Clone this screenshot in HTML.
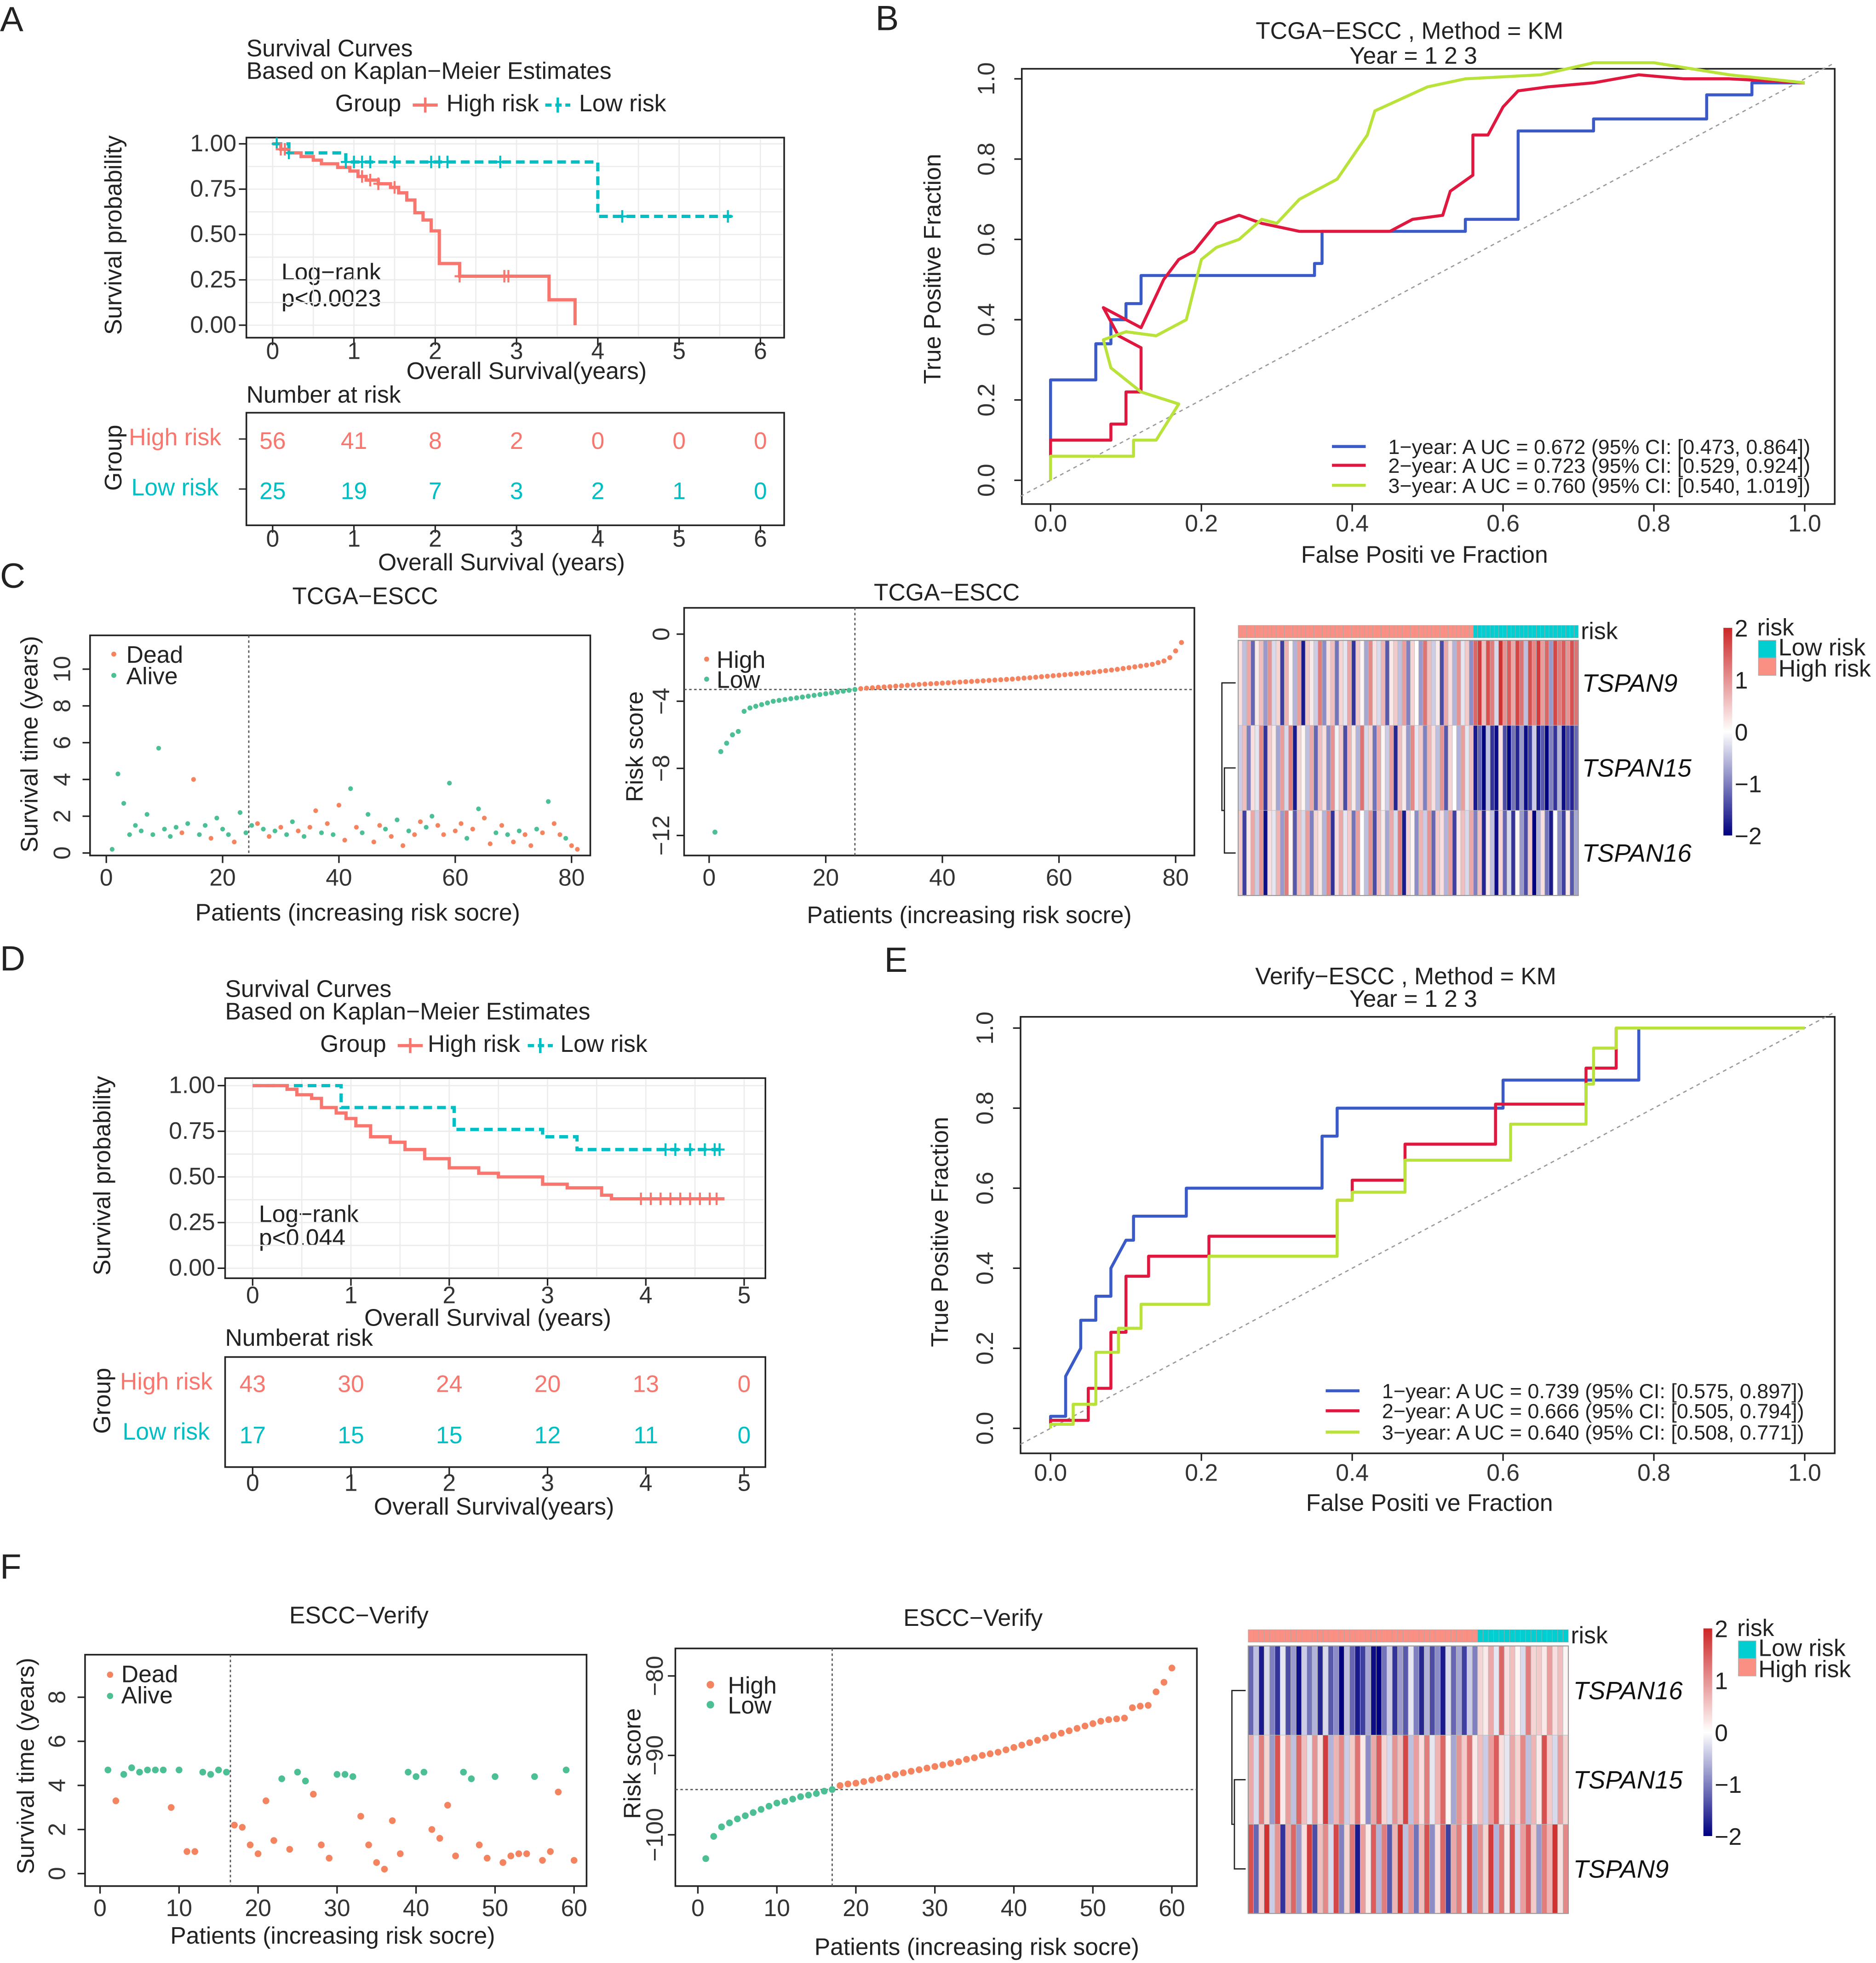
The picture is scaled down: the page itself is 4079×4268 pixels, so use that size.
<!DOCTYPE html>
<html><head><meta charset="utf-8"><style>
html,body{margin:0;padding:0;background:#fff;}
svg{display:block;font-family:"Liberation Sans",Arial,sans-serif;}
</style></head><body>
<svg id="fig" xmlns="http://www.w3.org/2000/svg" width="4079" height="4268" viewBox="0 0 1500 1569.5">
<rect x="0" y="0" width="1500" height="1570" fill="#fff"/>
<g font-size="19" fill="#222">
<text x="0" y="25" font-size="28">A</text>
<text x="700" y="24" font-size="28">B</text>
<text x="0" y="470" font-size="28">C</text>
<text x="0" y="776" font-size="28">D</text>
<text x="707" y="777" font-size="28">E</text>
<text x="0" y="1262" font-size="28">F</text>

<text x="197" y="45">Survival Curves</text>
<text x="197" y="63">Based on Kaplan−Meier Estimates</text>
<text x="268" y="89">Group</text>
<line x1="330" y1="84" x2="350" y2="84" stroke="#F8766D" stroke-width="2.5"/>
<line x1="340" y1="78" x2="340" y2="90" stroke="#F8766D" stroke-width="2"/>
<text x="357" y="89">High risk</text>
<line x1="436" y1="84" x2="456" y2="84" stroke="#00BFC4" stroke-width="2.5" stroke-dasharray="5,3"/>
<line x1="446" y1="78" x2="446" y2="90" stroke="#00BFC4" stroke-width="2"/>
<text x="463" y="89">Low risk</text>
<text transform="rotate(-90 97 188)" x="97" y="188" text-anchor="middle">Survival probability</text>
<text x="421" y="303" text-anchor="middle">Overall Survival(years)</text>
<text x="225" y="224">Log−rank</text>
<text x="225" y="245">p&lt;0.0023</text>
<text x="197" y="322">Number at risk</text>
<text x="103" y="356" fill="#F8766D">High  risk</text>
<text x="105" y="396" fill="#00BFC4">Low  risk</text>
<text transform="rotate(-90 97 366)" x="97" y="366" text-anchor="middle">Group</text>
<text x="401" y="456" text-anchor="middle">Overall  Survival  (years)</text>

<text x="1127" y="31" text-anchor="middle">TCGA−ESCC , Method = KM</text>
<text x="1130" y="51" text-anchor="middle">Year = 1 2 3</text>
<text transform="rotate(-90 752 215)" x="752" y="215" text-anchor="middle">True Positive Fraction</text>
<text x="1139" y="450" text-anchor="middle">False Positi ve Fraction</text>

<text x="292" y="483" text-anchor="middle">TCGA−ESCC</text>
<text x="757" y="480" text-anchor="middle">TCGA−ESCC</text>
<text transform="rotate(-90 30 595)" x="30" y="595" text-anchor="middle">Survival time (years)</text>
<text x="286" y="736" text-anchor="middle">Patients (increasing risk socre)</text>
<circle cx="91" cy="523" r="2" fill="#F4845F"/>
<text x="101" y="530">Dead</text>
<circle cx="91" cy="540" r="2" fill="#4DBF94"/>
<text x="101" y="547">Alive</text>
<text transform="rotate(-90 514 597)" x="514" y="597" text-anchor="middle">Risk score</text>
<text x="775" y="738" text-anchor="middle">Patients (increasing risk socre)</text>
<circle cx="565" cy="527" r="2" fill="#F4845F"/>
<text x="573" y="534">High</text>
<circle cx="565" cy="543" r="2" fill="#4DBF94"/>
<text x="573" y="550">Low</text>

<text x="180" y="797">Survival Curves</text>
<text x="180" y="815">Based on Kaplan−Meier Estimates</text>
<text x="256" y="841">Group</text>
<line x1="318" y1="836" x2="338" y2="836" stroke="#F8766D" stroke-width="2.5"/>
<line x1="328" y1="830" x2="328" y2="842" stroke="#F8766D" stroke-width="2"/>
<text x="342" y="841">High risk</text>
<line x1="422" y1="836" x2="442" y2="836" stroke="#00BFC4" stroke-width="2.5" stroke-dasharray="5,3"/>
<line x1="432" y1="830" x2="432" y2="842" stroke="#00BFC4" stroke-width="2"/>
<text x="448" y="841">Low risk</text>
<text transform="rotate(-90 88 940)" x="88" y="940" text-anchor="middle">Survival probability</text>
<text x="390" y="1060" text-anchor="middle">Overall Survival (years)</text>
<text x="207" y="977">Log−rank</text>
<text x="207" y="996">p&lt;0.044</text>
<text x="180" y="1076">Numberat risk</text>
<text x="96" y="1111" fill="#F8766D">High risk</text>
<text x="98" y="1151" fill="#00BFC4">Low risk</text>
<text transform="rotate(-90 88 1120)" x="88" y="1120" text-anchor="middle">Group</text>
<text x="395" y="1211" text-anchor="middle">Overall Survival(years)</text>

<text x="1124" y="787" text-anchor="middle">Verify−ESCC , Method = KM</text>
<text x="1130" y="805" text-anchor="middle">Year = 1 2 3</text>
<text transform="rotate(-90 758 985)" x="758" y="985" text-anchor="middle">True Positive Fraction</text>
<text x="1143" y="1208" text-anchor="middle">False Positi ve Fraction</text>

<text x="287" y="1298" text-anchor="middle">ESCC−Verify</text>
<text x="778" y="1300" text-anchor="middle">ESCC−Verify</text>
<text transform="rotate(-90 27 1412)" x="27" y="1412" text-anchor="middle">Survival time (years)</text>
<text x="266" y="1554" text-anchor="middle">Patients (increasing risk socre)</text>
<circle cx="88" cy="1339" r="2.5" fill="#F4845F"/>
<text x="97" y="1345">Dead</text>
<circle cx="88" cy="1356" r="2.5" fill="#4DBF94"/>
<text x="97" y="1362">Alive</text>
<text transform="rotate(-90 512 1410)" x="512" y="1410" text-anchor="middle">Risk score</text>
<text x="781" y="1563" text-anchor="middle">Patients (increasing risk socre)</text>
<circle cx="568" cy="1347" r="3" fill="#F4845F"/>
<text x="582" y="1354">High</text>
<circle cx="568" cy="1363" r="3" fill="#4DBF94"/>
<text x="582" y="1370">Low</text>
</g>
<defs>
<linearGradient id="hmgrad" x1="0" y1="1" x2="0" y2="0">
<stop offset="0" stop-color="#000080"/><stop offset="0.5" stop-color="#ffffff"/><stop offset="1" stop-color="#CD2626"/>
</linearGradient>
</defs>
</svg>
<script>
const kmA_highT = [0,0.1,0.2,0.35,0.5,0.6,0.8,0.95,1.05,1.15,1.3,1.45,1.55,1.65,1.75,1.85,1.95,2.05,2.3,3.4,3.72];
const kmA_highS = [1,0.97,0.95,0.93,0.91,0.89,0.87,0.85,0.82,0.80,0.78,0.76,0.73,0.69,0.62,0.58,0.52,0.34,0.27,0.14,0];
const kmA_highCens = [0.1,0.15,1.1,1.2,1.3,1.5,2.3,2.85,2.9];
const kmA_lowT = [0,0.2,0.9,4.0];
const kmA_lowS = [1,0.95,0.9,0.6];
const kmA_lowCens = [0.05,0.2,0.9,1.0,1.1,1.2,1.5,1.95,2.05,2.15,2.8,4.3,5.6];
const riskA_high = [56,41,8,2,0,0,0];
const riskA_low = [25,19,7,3,2,1,0];
const kmA_xticks = [0,1,2,3,4,5,6];
const km_yticks = [0,0.25,0.5,0.75,1];
const km_ylabels = ['0.00','0.25','0.50','0.75','1.00'];
const kmD_highT = [0,0.35,0.45,0.6,0.7,0.85,0.95,1.05,1.2,1.4,1.55,1.75,2.0,2.3,2.5,2.95,3.2,3.55,3.65];
const kmD_highS = [1,0.98,0.95,0.93,0.88,0.85,0.82,0.78,0.72,0.69,0.65,0.6,0.55,0.52,0.5,0.46,0.44,0.40,0.38];
const kmD_highCens = [3.95,4.05,4.15,4.25,4.35,4.45,4.55,4.65,4.72];
const kmD_lowT = [0,0.9,2.05,2.95,3.3];
const kmD_lowS = [1,0.88,0.76,0.72,0.65];
const kmD_lowCens = [4.2,4.3,4.45,4.6,4.7,4.75];
const riskD_high = [43,30,24,20,13,0];
const riskD_low = [17,15,15,12,11,0];
const kmD_xticks = [0,1,2,3,4,5];
const rocB1_fpr = [0,0,0.06,0.06,0.08,0.08,0.10,0.10,0.12,0.12,0.35,0.35,0.36,0.36,0.55,0.55,0.62,0.62,0.72,0.72,0.87,0.87,0.93,0.93,1];
const rocB1_tpr = [0,0.25,0.25,0.34,0.34,0.40,0.40,0.44,0.44,0.51,0.51,0.54,0.54,0.62,0.62,0.65,0.65,0.87,0.87,0.90,0.90,0.96,0.96,0.99,0.99];
const rocB2_fpr = [0,0,0.08,0.08,0.10,0.10,0.12,0.12,0.09,0.07,0.12,0.15,0.17,0.19,0.22,0.25,0.28,0.33,0.45,0.48,0.52,0.53,0.56,0.56,0.58,0.60,0.62,0.66,0.72,0.78,0.84,0.90,1];
const rocB2_tpr = [0,0.10,0.10,0.14,0.14,0.22,0.22,0.33,0.36,0.43,0.38,0.50,0.55,0.57,0.64,0.66,0.64,0.62,0.62,0.65,0.66,0.72,0.76,0.86,0.86,0.93,0.97,0.98,0.99,1.01,1.0,1.0,0.99];
const rocB3_fpr = [0,0,0.11,0.11,0.14,0.17,0.12,0.08,0.07,0.10,0.14,0.18,0.20,0.22,0.25,0.28,0.30,0.33,0.38,0.42,0.43,0.50,0.55,0.65,0.72,0.80,0.90,1];
const rocB3_tpr = [0,0.06,0.06,0.10,0.10,0.19,0.22,0.28,0.35,0.37,0.36,0.40,0.55,0.58,0.60,0.65,0.64,0.70,0.75,0.86,0.92,0.98,1.0,1.01,1.04,1.04,1.01,0.99];
const rocB_labels = ['1−year: A UC = 0.672 (95% CI: [0.473, 0.864])','2−year: A UC = 0.723 (95% CI: [0.529, 0.924])','3−year: A UC = 0.760 (95% CI: [0.540, 1.019])'];
const rocE1_fpr = [0,0,0.02,0.02,0.04,0.04,0.06,0.06,0.08,0.08,0.10,0.11,0.11,0.18,0.18,0.36,0.36,0.38,0.38,0.60,0.60,0.78,0.78,1];
const rocE1_tpr = [0,0.03,0.03,0.13,0.20,0.27,0.27,0.33,0.33,0.40,0.47,0.47,0.53,0.53,0.60,0.60,0.73,0.73,0.80,0.80,0.87,0.87,1,1];
const rocE2_fpr = [0,0,0.05,0.05,0.08,0.08,0.10,0.10,0.13,0.13,0.21,0.21,0.38,0.38,0.40,0.40,0.47,0.47,0.59,0.59,0.71,0.71,0.75,0.75,1];
const rocE2_tpr = [0,0.02,0.02,0.10,0.10,0.24,0.24,0.38,0.38,0.43,0.43,0.48,0.48,0.57,0.57,0.62,0.62,0.71,0.71,0.81,0.81,0.90,0.90,1,1];
const rocE3_fpr = [0,0,0.03,0.03,0.06,0.06,0.09,0.09,0.12,0.12,0.21,0.21,0.38,0.38,0.40,0.40,0.47,0.47,0.61,0.61,0.71,0.71,0.72,0.72,0.75,0.75,1];
const rocE3_tpr = [0,0.01,0.01,0.06,0.06,0.19,0.19,0.25,0.25,0.31,0.31,0.43,0.43,0.57,0.57,0.59,0.59,0.67,0.67,0.76,0.76,0.86,0.86,0.95,0.95,1,1];
const rocE_labels = ['1−year: A UC = 0.739 (95% CI: [0.575, 0.897])','2−year: A UC = 0.666 (95% CI: [0.505, 0.794])','3−year: A UC = 0.640 (95% CI: [0.508, 0.771])'];
const roc_ticks = [0,0.2,0.4,0.6,0.8,1.0];
const roc_tickLabels = ['0.0','0.2','0.4','0.6','0.8','1.0'];
const survC = [0.2,4.3,2.7,1.0,1.5,1.2,2.1,1.0,5.7,1.3,0.9,1.4,1.1,1.6,4.0,1.0,1.5,0.8,1.9,1.3,1.0,0.6,2.2,1.1,1.5,1.6,1.3,0.9,1.2,1.4,1.0,1.7,1.2,0.9,1.4,2.3,1.1,1.6,1.0,2.6,0.7,3.5,1.4,1.1,2.1,0.6,1.5,1.3,0.9,1.8,0.4,1.2,1.0,1.7,1.4,2.0,1.5,1.0,3.8,1.2,1.6,0.8,1.3,2.4,1.9,0.5,1.1,1.5,1.0,0.6,1.2,1.0,0.4,1.3,1.1,2.8,1.6,1.0,0.8,0.4,0.2];
const statusC = [0,0,0,0,0,0,0,0,0,0,0,0,1,0,1,0,0,1,0,0,0,1,0,0,0,1,0,1,0,1,0,0,1,0,1,1,0,1,0,1,1,0,1,0,0,1,1,0,1,0,1,0,1,1,0,0,1,1,0,1,1,0,1,0,1,1,0,1,0,1,0,1,1,0,1,0,1,1,0,1,1];
const riskC = [-11.8,-7.0,-6.5,-6.0,-5.8,-4.6,-4.4,-4.3,-4.2,-4.1,-4.0,-3.95,-3.9,-3.85,-3.8,-3.75,-3.7,-3.65,-3.6,-3.55,-3.5,-3.45,-3.4,-3.35,-3.3,-3.25,-3.22,-3.2,-3.17,-3.15,-3.13,-3.1,-3.08,-3.05,-3.03,-3.0,-2.98,-2.96,-2.94,-2.92,-2.9,-2.88,-2.86,-2.84,-2.82,-2.8,-2.78,-2.76,-2.74,-2.72,-2.7,-2.68,-2.65,-2.62,-2.6,-2.57,-2.54,-2.51,-2.48,-2.45,-2.42,-2.39,-2.36,-2.33,-2.3,-2.26,-2.22,-2.18,-2.14,-2.1,-2.05,-2.0,-1.95,-1.9,-1.85,-1.8,-1.7,-1.6,-1.4,-1.0,-0.5];
const cutC = 25;
const scatC_xticks = [0,20,40,60,80];
const scatC_yticks = [0,2,4,6,8,10];
const riskC_yticks = [0,-4,-8,-12];
const survF = [4.7,3.3,4.5,4.8,4.6,4.7,4.7,4.7,3.0,4.7,1.0,1.0,4.6,4.5,4.7,4.6,2.2,2.1,1.3,0.9,3.3,1.5,4.3,1.1,4.6,4.2,3.6,1.3,0.7,4.5,4.5,4.4,2.6,1.3,0.5,0.2,2.4,0.9,4.6,4.4,4.6,2.0,1.6,3.1,0.8,4.6,4.3,1.3,0.7,4.4,0.5,0.8,0.9,0.9,4.4,0.6,1.0,3.7,4.7,0.6];
const statusF = [0,1,0,0,0,0,0,0,1,0,1,1,0,0,0,0,1,1,1,1,1,1,0,1,0,0,1,1,1,0,0,0,1,1,1,1,1,1,0,0,0,1,1,1,1,0,0,1,1,0,1,1,1,1,0,1,1,1,0,1];
const riskF = [-103,-100.2,-99,-98.5,-98,-97.6,-97.2,-96.8,-96.4,-96,-95.8,-95.5,-95.2,-95,-94.8,-94.5,-94.3,-93.8,-93.6,-93.5,-93.3,-93.1,-92.9,-92.7,-92.4,-92.2,-92,-91.8,-91.6,-91.4,-91.2,-91,-90.8,-90.5,-90.3,-90,-89.8,-89.6,-89.3,-89,-88.7,-88.4,-88.1,-87.8,-87.5,-87.2,-86.9,-86.6,-86.3,-86,-85.7,-85.5,-85.4,-85.3,-84,-83.8,-83.7,-82,-80.8,-79];
const cutF = 17;
const scatF_xticks = [0,10,20,30,40,50,60];
const scatF_yticks = [0,2,4,6,8];
const riskF_yticks = [-80,-90,-100];
const hmC_genes = ['TSPAN9','TSPAN15','TSPAN16'];
const hmC_t9 = [0.3,-0.5,0.8,-1.2,0.2,0.6,-0.8,1.0,-0.3,0.4,-1.5,0.7,0.1,-0.6,0.9,-1.8,0.5,0.2,-0.4,1.2,-0.9,0.3,0.6,-1.1,0.4,-0.2,0.8,-1.6,0.5,0.1,-0.7,1.1,0.3,-0.3,0.7,-1.3,0.2,0.5,-0.5,0.9,-1.0,0.4,0.0,-0.8,1.3,0.6,-0.4,0.2,-1.4,0.8,0.3,-0.6,1.0,-0.2,0.5,-0.9,1.4,1.8,0.6,1.6,1.2,-0.3,1.9,1.0,1.5,0.8,1.7,1.3,-0.5,1.6,1.1,1.8,0.9,1.4,-0.8,1.7,1.2,1.5,1.0,1.6,1.3];
const hmC_t15 = [-0.4,0.6,-1.0,0.3,-0.2,1.1,-1.6,0.5,0.2,-0.7,0.9,-0.3,1.2,-1.8,0.4,0.1,-0.5,0.8,-1.2,0.6,0.3,-0.9,1.0,-0.1,0.5,-1.4,0.7,0.2,-0.6,1.3,-0.3,0.4,-1.1,0.8,0.1,-0.4,0.9,-1.7,0.6,0.2,-0.8,1.1,-0.2,0.5,-1.0,0.7,0.3,-0.5,1.0,-1.3,0.4,0.0,-0.6,0.9,-0.2,0.6,-1.8,-1.2,-2.0,-0.5,-1.6,-1.9,0.3,-1.4,-2.0,-1.1,-1.7,-0.8,-1.9,-1.5,-0.4,-1.8,-1.3,-2.0,-1.0,-1.6,-0.6,-1.9,-1.4,-1.7,-1.2];
const hmC_t16 = [0.5,-1.5,0.2,0.8,-0.4,1.0,-1.9,0.3,-0.2,0.7,-0.8,1.2,0.1,-1.3,0.6,-0.3,0.9,-1.0,0.4,0.2,-0.6,1.1,-1.6,0.3,0.8,-0.2,0.5,-1.1,0.9,0.0,-0.5,1.0,-1.4,0.6,0.2,-0.7,0.8,-0.3,1.2,-1.8,0.4,0.1,-0.9,0.7,-0.4,1.0,-1.2,0.5,0.3,-0.6,0.9,-1.5,0.2,0.6,-0.3,0.8,-1.0,0.6,-1.7,0.2,-0.5,-1.9,0.4,-1.2,-0.3,-1.6,0.1,-0.8,-1.4,0.5,-2.0,-0.6,0.3,-1.1,-1.8,0.0,-0.9,-1.5,0.2,-1.3,-0.7];
const hmC_nHigh = 56;
const hmF_genes = ['TSPAN16','TSPAN15','TSPAN9'];
const hmF_t16 = [-1.2,-0.5,-1.8,-0.3,-1.0,-1.6,-0.2,-1.4,-0.8,-1.9,-0.4,-1.1,-0.6,-1.7,-0.3,-1.3,-0.9,-2.0,-0.5,-1.2,-1.8,-1.5,-0.7,-1.9,-2.0,-1.1,-0.4,-1.6,-0.8,-1.3,-0.2,-1.0,-1.7,-0.6,-1.4,-0.9,-1.8,-0.3,-1.2,-0.7,-1.5,-0.4,-1.0,0.4,0.2,0.8,-0.2,1.4,0.3,0.6,0.1,-0.3,1.2,0.4,0.5,0.2,0.9,0.3,0.6,0.1];
const hmF_t15 = [0.8,-0.3,1.2,0.4,-0.8,1.6,0.2,0.9,-0.5,1.4,0.6,-0.2,1.0,0.3,1.8,-0.6,0.7,1.1,-0.4,0.5,1.3,0.2,-0.9,0.8,1.5,0.4,-0.3,1.0,0.6,1.7,-0.5,0.9,0.3,1.2,-0.2,0.7,1.4,0.1,-0.7,1.0,0.5,1.3,0.2,0.6,-0.4,0.9,1.5,0.3,-0.2,0.8,0.4,1.1,-0.5,0.7,0.2,1.6,0.5,-0.3,0.9,0.4];
const hmF_t9 = [1.6,-1.2,0.5,1.9,-0.4,1.0,-1.6,0.8,1.4,-0.8,0.3,1.8,-1.4,0.6,1.1,-0.3,1.7,-1.0,0.4,1.3,-1.8,0.9,0.2,1.5,-0.6,1.2,-1.3,0.7,1.9,-0.5,1.0,-1.1,0.6,1.6,-0.9,0.3,1.4,-1.5,0.8,1.2,-0.2,1.7,-0.7,1.0,0.4,1.8,-0.6,1.3,0.2,1.6,-0.3,0.9,1.5,0.5,-0.8,1.2,0.7,1.9,0.3,1.1];
const hmF_nHigh = 43;

const NS='http://www.w3.org/2000/svg';
const svg=document.getElementById('fig');
function add(p,tag,a,txt){const e=document.createElementNS(NS,tag);for(const k in a)e.setAttribute(k,a[k]);if(txt!==undefined)e.textContent=txt;p.appendChild(e);return e;}
function lin(d0,d1,r0,r1){return v=>r0+(v-d0)/(d1-d0)*(r1-r0);}
const FS=19;
function box(x0,y0,x1,y1,name){
  const r=add(svg,'rect',{x:x0,y:y0,width:x1-x0,height:y1-y0,fill:'none',stroke:'#222','stroke-width':1.3});
  
  
}
function xTicks(vals,labels,sx,yBase,yText,name){
  vals.forEach((v,i)=>{
    const l=add(svg,'line',{x1:sx(v),x2:sx(v),y1:yBase,y2:yBase+6,stroke:'#222','stroke-width':1.2});
    
    
    const t=add(svg,'text',{x:sx(v),y:yText,'text-anchor':'middle','font-size':FS,fill:'#333'},labels[i]);
    
    
  });
}
function yTicksRot(vals,labels,sy,xBase,xText,name){
  vals.forEach((v,i)=>{
    const l=add(svg,'line',{x1:xBase-6,x2:xBase,y1:sy(v),y2:sy(v),stroke:'#222','stroke-width':1.2});
    
    
    const t=add(svg,'text',{x:xText,y:sy(v),'text-anchor':'middle','font-size':FS,fill:'#333',transform:`rotate(-90 ${xText} ${sy(v)})`},labels[i]);
    
    
  });
}
function yTicksH(vals,labels,sy,xBase,name){
  vals.forEach((v,i)=>{
    const l=add(svg,'line',{x1:xBase-6,x2:xBase,y1:sy(v),y2:sy(v),stroke:'#222','stroke-width':1.2});
    
    
    const t=add(svg,'text',{x:xBase-8,y:sy(v)+6,'text-anchor':'end','font-size':FS,fill:'#333'},labels[i]);
    
    
  });
}
function stepAt(T,S,t){let s=S[0];for(let i=0;i<T.length;i++){if(T[i]<=t)s=S[i];}return s;}
function kmCurve(T,S,end,sx,sy,color,dash,name){
  let d=`M${sx(T[0])},${sy(S[0])}`;
  for(let i=1;i<T.length;i++){d+=` H${sx(T[i])} V${sy(S[i])}`;}
  d+=` H${sx(end)}`;
  const p=add(svg,'path',{d:d,fill:'none',stroke:color,'stroke-width':2.6,'stroke-dasharray':dash});
  
  
}
function censor(T,S,C,sx,sy,color,name){
  C.forEach(c=>{
    const x=sx(c),y=sy(stepAt(T,S,c));
    const l=add(svg,'path',{d:`M${x-4},${y} H${x+4} M${x},${y-5} V${y+5}`,stroke:color,'stroke-width':1.6,fill:'none'});
    
    
  });
}
function grid(xs,ys,sx,sy,x0,x1,y0,y1,name){
  xs.forEach(v=>{const l=add(svg,'line',{x1:sx(v),x2:sx(v),y1:y0,y2:y1,stroke:'#ECECEC','stroke-width':1});
    
    });
  ys.forEach(v=>{const l=add(svg,'line',{x1:x0,x2:x1,y1:sy(v),y2:sy(v),stroke:'#ECECEC','stroke-width':1});
    
    });
}
function halfs(a){const r=[];for(let i=0;i<a.length-1;i++)r.push((a[i]+a[i+1])/2);return r;}

{
  const sx=lin(0,6,218,608), sy=lin(0,1,260,115);
  grid(kmA_xticks.concat(halfs(kmA_xticks)),km_yticks.concat(halfs(km_yticks)),sx,sy,198,626,111,269,'km-a-grid');
  box(197,110,627,270,'km-a-plot-area');
  yTicksH(km_yticks,km_ylabels,sy,197,'km-a-y-tick');
  xTicks(kmA_xticks,kmA_xticks.map(String),sx,270,287,'km-a-x-tick');
  kmCurve(kmA_lowT,kmA_lowS,5.7,sx,sy,'#00BFC4','7,4','km-a-low-risk-curve');
  kmCurve(kmA_highT,kmA_highS,kmA_highT[kmA_highT.length-1],sx,sy,'#F8766D','none','km-a-high-risk-curve');
  censor(kmA_lowT,kmA_lowS,kmA_lowCens,sx,sy,'#00BFC4','km-a-low-censor');
  censor(kmA_highT,kmA_highS,kmA_highCens,sx,sy,'#F8766D','km-a-high-censor');
  box(197,330,627,420,'risk-table-a-box');
  xTicks(kmA_xticks,kmA_xticks.map(String),sx,420,437,'risk-table-a-x-tick');
  riskA_high.forEach((v,i)=>{const t=add(svg,'text',{x:sx(kmA_xticks[i]),y:359,'text-anchor':'middle','font-size':FS,fill:'#F8766D'},v);
    
    });
  riskA_low.forEach((v,i)=>{const t=add(svg,'text',{x:sx(kmA_xticks[i]),y:399,'text-anchor':'middle','font-size':FS,fill:'#00BFC4'},v);
    
    });
  [356,396].forEach(y=>{const l=add(svg,'line',{x1:191,x2:197,y1:y-5,y2:y-5,stroke:'#222'});
    
    });
}
{
  const sx=lin(0,5,202,595), sy=lin(0,1,1014,868);
  grid(kmD_xticks.concat(halfs(kmD_xticks)),km_yticks.concat(halfs(km_yticks)),sx,sy,181,611,863,1021,'km-d-grid');
  box(180,862,612,1022,'km-d-plot-area');
  yTicksH(km_yticks,km_ylabels,sy,180,'km-d-y-tick');
  xTicks(kmD_xticks,kmD_xticks.map(String),sx,1022,1042,'km-d-x-tick');
  kmCurve(kmD_lowT,kmD_lowS,4.8,sx,sy,'#00BFC4','7,4','km-d-low-risk-curve');
  kmCurve(kmD_highT,kmD_highS,4.8,sx,sy,'#F8766D','none','km-d-high-risk-curve');
  censor(kmD_lowT,kmD_lowS,kmD_lowCens,sx,sy,'#00BFC4','km-d-low-censor');
  censor(kmD_highT,kmD_highS,kmD_highCens,sx,sy,'#F8766D','km-d-high-censor');
  box(180,1085,612,1173,'risk-table-d-box');
  xTicks(kmD_xticks,kmD_xticks.map(String),sx,1173,1192,'risk-table-d-x-tick');
  riskD_high.forEach((v,i)=>{const t=add(svg,'text',{x:sx(kmD_xticks[i]),y:1113,'text-anchor':'middle','font-size':FS,fill:'#F8766D'},v);
    
    });
  riskD_low.forEach((v,i)=>{const t=add(svg,'text',{x:sx(kmD_xticks[i]),y:1154,'text-anchor':'middle','font-size':FS,fill:'#00BFC4'},v);
    
    });
}
function roc(x0,y0,x1,y1,sx,sy,curves,labels,legY,name){
  box(x0,y0,x1,y1,name+'-plot-area');
  const dg=add(svg,'line',{x1:sx(-0.04),y1:sy(-0.04),x2:sx(1.04),y2:sy(1.04),stroke:'#999','stroke-width':1,'stroke-dasharray':'3,3'});
  
  
  xTicks(roc_ticks,roc_tickLabels,sx,y1,y1+22,name+'-x-tick');
  yTicksRot(roc_ticks,roc_tickLabels,sy,x0,x0-22,name+'-y-tick');
  const cols=['#3A5BC7','#E0173F','#B9E33A'];
  curves.forEach((c,k)=>{
    const pts=c[0].map((f,i)=>sx(f)+','+sy(c[1][i])).join(' ');
    const p=add(svg,'polyline',{points:pts,fill:'none',stroke:cols[k],'stroke-width':2.4,'stroke-linejoin':'round'});
    
    
    const l=add(svg,'line',{x1:legY.x,x2:legY.x+27,y1:legY.y[k],y2:legY.y[k],stroke:cols[k],'stroke-width':2.4});
    
    
    const t=add(svg,'text',{x:legY.x+45,y:legY.y[k]+6,'font-size':16.5,fill:'#222'},labels[k]);
    
    
  });
}
roc(817,55,1467,403,lin(0,1,840,1443),lin(0,1,384,63),[[rocB1_fpr,rocB1_tpr],[rocB2_fpr,rocB2_tpr],[rocB3_fpr,rocB3_tpr]],rocB_labels,{x:1065,y:[357,372,388]},'roc-b');
roc(816,813,1467,1162,lin(0,1,840,1443),lin(0,1,1142,822),[[rocE1_fpr,rocE1_tpr],[rocE2_fpr,rocE2_tpr],[rocE3_fpr,rocE3_tpr]],rocE_labels,{x:1060,y:[1112,1128,1145]},'roc-e');

function scatter(x0,y0,x1,y1,sx,sy,surv,stat,cut,xt,yt,r,name){
  box(x0,y0,x1,y1,name+'-plot-area');
  xTicks(xt,xt.map(String),sx,y1,y1+24,name+'-x-tick');
  yTicksRot(yt,yt.map(String),sy,x0,x0-16,name+'-y-tick');
  const v=add(svg,'line',{x1:sx(cut-0.5),x2:sx(cut-0.5),y1:y0,y2:y1,stroke:'#555','stroke-dasharray':'2,2'});
  
  
  surv.forEach((s,i)=>{
    const c=add(svg,'circle',{cx:sx(i+1),cy:sy(s),r:r,fill:stat[i]?'#F4845F':'#4DBF94'});
    
    
  });
}
function riskplot(x0,y0,x1,y1,sx,sy,risk,cut,xt,yt,r,lx,name){
  box(x0,y0,x1,y1,name+'-plot-area');
  xTicks(xt,xt.map(String),sx,y1,y1+24,name+'-x-tick');
  yTicksRot(yt,yt.map(v=>String(v).replace('-','−')),sy,x0,lx,name+'-y-tick');
  const v=add(svg,'line',{x1:sx(cut),x2:sx(cut),y1:y0,y2:y1,stroke:'#555','stroke-dasharray':'2,2'});
  
  
  const h=add(svg,'line',{x1:x0,x2:x1,y1:sy(risk[cut-1]),y2:sy(risk[cut-1]),stroke:'#555','stroke-dasharray':'2,2'});
  
  
  risk.forEach((s,i)=>{
    const c=add(svg,'circle',{cx:sx(i+1),cy:sy(s),r:r,fill:i<cut?'#4DBF94':'#F4845F'});
    
    
  });
}
scatter(72,508,472,684,lin(0,80,85,457),lin(0,10,682,535),survC,statusC,cutC,scatC_xticks,scatC_yticks,1.9,'scatter-c');
riskplot(547,486,955,684,lin(0,80,567,940),lin(0,-12,507,668),riskC,cutC,scatC_xticks,riskC_yticks,2,535,'risk-c');
scatter(68,1323,469,1508,lin(0,60,80,459),lin(0,8,1498,1357),survF,statusF,cutF,scatF_xticks,scatF_yticks,2.7,'scatter-f');
riskplot(540,1318,957,1508,lin(0,60,558,937),lin(-80,-100,1340,1467),riskF,cutF,scatF_xticks,riskF_yticks,2.7,530,'risk-f');

function hcol(v){
  v=Math.max(-2,Math.min(2,v));
  let a,b,t;
  if(v>=0){a=[255,255,255];b=[205,38,38];t=v/2;}else{a=[255,255,255];b=[0,0,128];t=-v/2;}
  const c=a.map((x,i)=>Math.round(x+(b[i]-x)*t));
  return `rgb(${c[0]},${c[1]},${c[2]})`;
}
function heatmap(x0,x1,barY,rowY,rowH,rows,genes,nHigh,geneX,legX,legY,name){
  const n=rows[0].length, w=(x1-x0)/n;
  for(let i=0;i<n;i++){
    const r=add(svg,'rect',{x:x0+i*w,y:barY,width:w,height:10,fill:i<nHigh?'#FA8F84':'#00CED1',stroke:'#aaa','stroke-width':0.3});
    
    
  }
  const rl=add(svg,'text',{x:x1+2,y:barY+11,'font-size':FS,fill:'#222'},'risk');
  
  
  rows.forEach((row,g)=>{
    row.forEach((v,i)=>{
      const r=add(svg,'rect',{x:x0+i*w,y:rowY+g*rowH,width:w,height:rowH,fill:hcol(v),stroke:'#bdbdbd','stroke-width':0.35});
      
      
    });
    const t=add(svg,'text',{x:geneX,y:rowY+g*rowH+rowH/2+7,'font-size':20,'font-style':'italic',fill:'#111'},genes[g]);
    
    
  });
  const fr=add(svg,'rect',{x:x0,y:rowY,width:x1-x0,height:rowH*3,fill:'none',stroke:'#999','stroke-width':0.8});
  
  
  const m1=rowY+rowH*1.5, m2=rowY+rowH*0.5, m3=rowY+rowH*2.5, mm=(m1+m3)/2;
  const d=add(svg,'path',{d:`M${x0-2},${m1} H${x0-11} V${m3} H${x0-2} M${x0-11},${mm} H${x0-13} V${m2} H${x0-2}`,fill:'none',stroke:'#222','stroke-width':1});
  
  
  const cb=add(svg,'rect',{x:legX,y:legY,width:7,height:166,fill:'url(#hmgrad)'});
  
  
  ['2','1','0','−1','−2'].forEach((s,i)=>{
    const t=add(svg,'text',{x:legX+9,y:legY+7+i*41.5,'font-size':FS,fill:'#222'},s);
    
    
  });
  const lt=add(svg,'text',{x:legX+27,y:legY+6,'font-size':FS,fill:'#222'},'risk');
  
  
  const s1=add(svg,'rect',{x:legX+28,y:legY+10,width:14,height:14,fill:'#00CED1',stroke:'#aaa','stroke-width':0.5});
  
  
  const s2=add(svg,'rect',{x:legX+28,y:legY+24,width:14,height:14,fill:'#FA8F84',stroke:'#aaa','stroke-width':0.5});
  
  
  const t1=add(svg,'text',{x:legX+44,y:legY+22,'font-size':FS,fill:'#222'},'Low risk');
  
  
  const t2=add(svg,'text',{x:legX+44,y:legY+39,'font-size':FS,fill:'#222'},'High risk');
  
  
}
heatmap(990,1262,500,512,68,[hmC_t9,hmC_t15,hmC_t16],hmC_genes,hmC_nHigh,1265,1378,502,'heatmap-c');
heatmap(998,1254,1303,1316,71.3,[hmF_t16,hmF_t15,hmF_t9],hmF_genes,hmF_nHigh,1258,1362,1302,'heatmap-f');
</script>
</body></html>
